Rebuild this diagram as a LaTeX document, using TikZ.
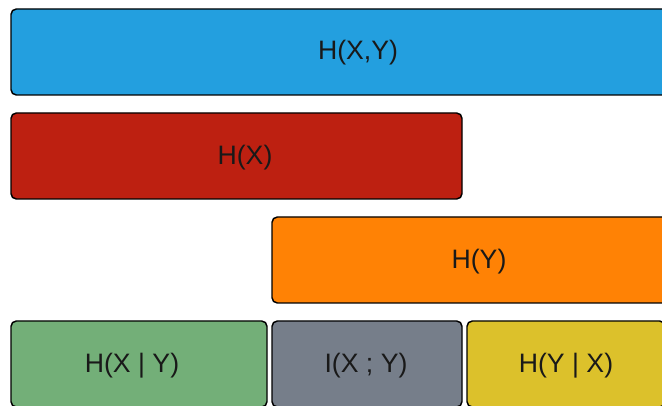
\documentclass[tikz,border=0pt]{standalone}
\usepackage{fontspec}
\setmainfont{Liberation Sans}
\definecolor{jointblue}{HTML}{239FDF}
\definecolor{xred}{HTML}{BD2011}
\definecolor{yorange}{HTML}{FF8205}
\definecolor{condgreen}{HTML}{73AF78}
\definecolor{mutualgray}{HTML}{767E8A}
\definecolor{condyellow}{HTML}{DCC12B}
\tikzset{
	bar/.style={draw=black, line width=1.1pt, rounded corners=4pt, inner sep=0pt, minimum height=86*0.75pt},
	barlabel/.style={text=black!90, inner sep=0pt, font=\fontsize{20}{24}\selectfont}
}
\begin{document}
\begin{tikzpicture}[x=0.75pt, y=-0.75pt]
				\clip (0,0) rectangle (662,406);
				\useasboundingbox (0,0) rectangle (662,406);
				\fill[white] (0,0) rectangle (662,406);
				
				%joint entropy
				\node[bar, fill=jointblue, minimum width=694*0.75pt] (hxy) at (358, 52){};
				\node[barlabel] (hxytext) at (358, 53){H(X,Y)};
				
				%marginals
				\node[bar, fill=xred, minimum width=451*0.75pt] (hx) at (236.5, 156){};
				\node[barlabel] (hxtext) at (245, 158){H(X)};
				\node[bar, fill=yorange, minimum width=414*0.75pt] (hy) at (479, 260){};
				\node[barlabel] (hytext) at (479, 262){H(Y)};
				
				%conditional and mutual
				\node[bar, fill=condgreen, minimum width=256*0.75pt] (hxgy) at (139, 364){};
				\node[barlabel] (hxgytext) at (132, 366){H(X | Y)};
				\node[bar, fill=mutualgray, minimum width=190*0.75pt] (ixy) at (367, 364){};
				\node[barlabel] (ixytext) at (366, 366){I(X ; Y)};
				\node[bar, fill=condyellow, minimum width=198*0.75pt] (hygx) at (566, 364){};
				\node[barlabel] (hygxtext) at (566, 366){H(Y | X)};
			\end{tikzpicture}
\end{document}
